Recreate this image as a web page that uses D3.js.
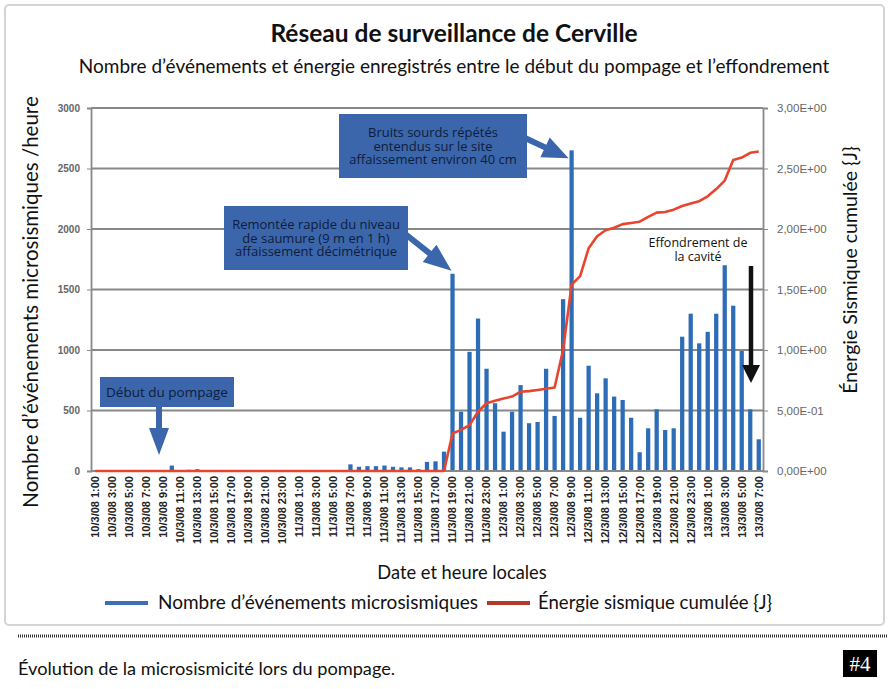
<!DOCTYPE html>
<html>
<head>
<meta charset="utf-8">
<script src="https://cdn.jsdelivr.net/npm/d3@7"></script>
<style>
  body { margin: 0; background: #fff; }
  svg { display: block; }
</style>
</head>
<body>
<svg id="chart" width="889" height="689"></svg>
<script>
// one bar per hour, starting 10/3/08 1:00
const startHour = new Date(2008, 2, 10, 1);
const hours = d3.range(79).map((i) => d3.timeHour.offset(startHour, i));
const fmtHour = d3.timeFormat("%-d/%-m/%y %-H:%M");
const categories = hours.map(fmtHour);

const events = [
    0, 0, 0, 0, 0, 0, 0, 0, 0, 45,
    0, 10, 15, 0, 0, 0, 0, 0, 0, 0,
    0, 0, 0, 0, 0, 0, 0, 0, 0, 0,
    55, 35, 40, 40, 45, 35, 30, 30, 15, 75,
    80, 160, 1630, 490, 985, 1260, 845, 560, 325, 490,
    710, 395, 405, 845, 455, 1420, 2650, 440, 870, 642,
    766, 615, 587, 440, 155, 353, 510, 339, 353, 1110,
    1300, 1055, 1150, 1300, 1700, 1366, 992, 510, 262
];

const energy = [
    0, 0, 0, 0, 0, 0, 0, 0, 0, 0,
    0, 0, 0, 0, 0, 0, 0, 0, 0, 0,
    0, 0, 0, 0, 0, 0, 0, 0, 0, 0,
    0, 0, 0, 0, 0, 0, 0, 0, 0, 0,
    0, 0, 0.31, 0.34, 0.38, 0.49, 0.56, 0.58, 0.60, 0.615,
    0.655, 0.66, 0.67, 0.68, 0.69, 1.0, 1.54, 1.61, 1.84, 1.94,
    1.99, 2.01, 2.04, 2.05, 2.06, 2.10, 2.135, 2.14, 2.16, 2.19,
    2.21, 2.23, 2.27, 2.33, 2.40, 2.57, 2.59, 2.63, 2.64
];

const leftTicks = [0, 500, 1000, 1500, 2000, 2500, 3000];
const rightTicks = [0, 0.5, 1, 1.5, 2, 2.5, 3];
const rightTickLabels = ["0,00E+00", "5,00E-01", "1,00E+00", "1,50E+00", "2,00E+00", "2,50E+00", "3,00E+00"];

const barColor = "#2d6cb6";
const lineColor = "#e8442e";
const boxColor = "#3b66ac";
const boxText = "#0e1c3a";

const plotL = 91, plotR = 763, plotT = 108, plotB = 471;

let svg = d3.select("#chart");

// frame
svg.append("rect")
    .attr("x", 5).attr("y", 5).attr("width", 879).attr("height", 620)
    .attr("rx", 4)
    .attr("fill", "none").attr("stroke", "#d4d4d4").attr("stroke-width", 2);

svg.append("text")
    .attr("x", 454).attr("y", 42)
    .attr("text-anchor", "middle")
    .style("font-family", "Lato").style("font-weight", "bold").style("font-size", "24.5px")
    .attr("fill", "#111")
    .text("Réseau de surveillance de Cerville");

svg.append("text")
    .attr("x", 454).attr("y", 73)
    .attr("text-anchor", "middle")
    .style("font-family", "Lato").style("font-size", "19px")
    .attr("fill", "#111")
    .text("Nombre d’événements et énergie enregistrés entre le début du pompage et l’effondrement");

let x = d3.scaleBand().domain(categories).range([plotL, plotR]).paddingInner(0.5).paddingOuter(0.25);
let y = d3.scaleLinear().domain([0, 3000]).range([plotB, plotT]);
let y2 = d3.scaleLinear().domain([0, 3]).range([plotB, plotT]);

// grid
svg.append("g")
    .selectAll("line")
    .data(leftTicks)
    .join("line")
    .attr("x1", plotL).attr("x2", plotR)
    .attr("y1", (d) => y(d)).attr("y2", (d) => y(d))
    .attr("stroke", "#888").attr("stroke-width", 1.8);

// left axis
let yAxis = svg.append("g")
    .attr("transform", `translate(${plotL},0)`)
    .call(d3.axisLeft(y).tickValues(leftTicks).tickFormat(d3.format("d")).tickSize(4).tickPadding(7));
yAxis.select(".domain").attr("stroke", "#888").attr("stroke-width", 1.8);
yAxis.selectAll(".tick line").attr("stroke", "#888");
yAxis.selectAll("text")
    .style("font-family", "Liberation Sans").style("font-size", "10px").style("font-weight", "bold")
    .attr("fill", "#666");

// right axis
let y2Axis = svg.append("g")
    .attr("transform", `translate(${plotR},0)`)
    .call(d3.axisRight(y2).tickValues(rightTicks).tickSize(5).tickPadding(9)
        .tickFormat((d, i) => rightTickLabels[i]));
y2Axis.select(".domain").attr("stroke", "#888").attr("stroke-width", 1.8);
y2Axis.selectAll(".tick line").attr("stroke", "#888");
y2Axis.selectAll("text")
    .style("font-family", "Liberation Sans").style("font-size", "11.5px")
    .attr("fill", "#666");

// x labels, every second hour
let xAxis = svg.append("g")
    .attr("transform", `translate(0,${plotB})`)
    .call(d3.axisBottom(x).tickValues(categories.filter((c, i) => i % 2 == 0)).tickSize(0));
xAxis.select(".domain").remove();
xAxis.selectAll("text")
    .attr("transform", "rotate(-90)")
    .attr("text-anchor", "end")
    .attr("x", -5).attr("y", 0).attr("dy", "0.35em")
    .style("font-family", "Liberation Sans").style("font-size", "11px").style("font-weight", "bold")
    .attr("fill", "#222");

// bars
svg.append("g")
    .selectAll("rect")
    .data(events)
    .join("rect")
    .attr("x", (d, i) => x(categories[i]))
    .attr("width", x.bandwidth())
    .attr("y", (d) => y(d))
    .attr("height", (d) => plotB - y(d))
    .attr("fill", barColor);

// bottom axis line
svg.append("line")
    .attr("x1", plotL).attr("x2", plotR).attr("y1", plotB).attr("y2", plotB)
    .attr("stroke", "#888").attr("stroke-width", 1.8);

// cumulative energy
svg.append("path")
    .datum(energy)
    .attr("fill", "none")
    .attr("stroke", lineColor)
    .attr("stroke-width", 2.6)
    .attr("stroke-linejoin", "round")
    .attr("d", d3.line()
        .x((d, i) => x(categories[i]) + x.bandwidth() / 2)
        .y((d) => y2(d)));

// axis titles
svg.append("text")
    .attr("transform", "translate(38,302) rotate(-90)")
    .attr("text-anchor", "middle")
    .style("font-family", "Lato").style("font-size", "20.5px")
    .attr("fill", "#111")
    .text("Nombre d’événements microsismiques /heure");

svg.append("text")
    .attr("transform", "translate(857,270) rotate(-90)")
    .attr("text-anchor", "middle")
    .style("font-family", "Lato").style("font-size", "19.5px")
    .attr("fill", "#111")
    .text("Énergie Sismique cumulée {J}");

svg.append("text")
    .attr("x", 462).attr("y", 579)
    .attr("text-anchor", "middle")
    .style("font-family", "Lato").style("font-size", "18.3px")
    .attr("fill", "#111")
    .text("Date et heure locales");

// arrows
function arrowPath(x1, y1, x2, y2, w, len, headW) {
    let dx = x2 - x1, dy = y2 - y1;
    let d = Math.hypot(dx, dy);
    let ux = dx / d, uy = dy / d;
    let nx = -uy, ny = ux;
    let bx = x2 - ux * len, by = y2 - uy * len;
    let pts = [
        [x1 + nx * w / 2, y1 + ny * w / 2],
        [bx + nx * w / 2, by + ny * w / 2],
        [bx + nx * headW / 2, by + ny * headW / 2],
        [x2, y2],
        [bx - nx * headW / 2, by - ny * headW / 2],
        [bx - nx * w / 2, by - ny * w / 2],
        [x1 - nx * w / 2, y1 - ny * w / 2]
    ];
    return "M" + pts.map((p) => p.join(",")).join("L") + "Z";
}

function barTip(i) {
    return [x(categories[i]) + x.bandwidth() / 2, y(events[i])];
}

function noteBox(bx, by, bw, bh, lines, size) {
    let g = svg.append("g");
    g.append("rect")
        .attr("x", bx).attr("y", by).attr("width", bw).attr("height", bh)
        .attr("fill", boxColor);
    let lh = size * 1.03;
    let y0 = by + bh / 2 - (lines.length - 1) * lh / 2;
    g.selectAll("text")
        .data(lines)
        .join("text")
        .attr("x", bx + bw / 2)
        .attr("y", (d, i) => y0 + i * lh)
        .attr("dy", "0.35em")
        .attr("text-anchor", "middle")
        .style("font-family", "Open Sans").style("font-size", size + "px")
        .attr("fill", boxText)
        .text((d) => d);
}

// Début du pompage
noteBox(100, 377, 134, 30, ["Début du pompage"], 13.5);
svg.append("path")
    .attr("d", arrowPath(159, 406, 159, 455, 6, 27, 20))
    .attr("fill", boxColor);

// Remontée rapide
noteBox(224, 206, 184, 64, ["Remontée rapide du niveau", "de saumure (9 m en 1 h)", "affaissement décimétrique"], 13);
let t2 = barTip(42);
svg.append("path")
    .attr("d", arrowPath(404, 233, t2[0] - 1, t2[1] - 3, 6, 28, 22))
    .attr("fill", boxColor);

// Bruits sourds
noteBox(339, 114, 188, 64, ["Bruits sourds répétés", "entendus sur le site", "affaissement environ 40 cm"], 13);
let t3 = barTip(56);
svg.append("path")
    .attr("d", arrowPath(525, 138, t3[0] - 3, t3[1] + 8, 6, 26, 22))
    .attr("fill", boxColor);

// Effondrement
svg.append("g")
    .selectAll("text")
    .data(["Effondrement de", "la cavité"])
    .join("text")
    .attr("x", 698)
    .attr("y", (d, i) => 247 + i * 13.5)
    .attr("text-anchor", "middle")
    .style("font-family", "Open Sans").style("font-size", "12.5px")
    .attr("fill", "#111")
    .text((d) => d);
svg.append("path")
    .attr("d", arrowPath(751, 266, 751, 383, 4.5, 18, 18))
    .attr("fill", "#111");

// legend
svg.append("line")
    .attr("x1", 105).attr("x2", 148).attr("y1", 603).attr("y2", 603)
    .attr("stroke", "#3d6fb6").attr("stroke-width", 4);
svg.append("text")
    .attr("x", 158).attr("y", 609)
    .style("font-family", "Lato").style("font-size", "19px")
    .attr("fill", "#111")
    .text("Nombre d’événements microsismiques");
svg.append("line")
    .attr("x1", 487).attr("x2", 530).attr("y1", 603).attr("y2", 603)
    .attr("stroke", "#b3392b").attr("stroke-width", 4);
svg.append("text")
    .attr("x", 538).attr("y", 609)
    .style("font-family", "Lato").style("font-size", "18.6px")
    .attr("fill", "#111")
    .text("Énergie sismique cumulée {J}");

// footer
svg.append("line")
    .attr("x1", 18).attr("x2", 887).attr("y1", 636).attr("y2", 636)
    .attr("stroke", "#333").attr("stroke-width", 3)
    .attr("stroke-dasharray", "1,1");

svg.append("text")
    .attr("x", 18).attr("y", 675)
    .style("font-family", "Lato").style("font-size", "18.2px")
    .attr("fill", "#111")
    .text("Évolution de la microsismicité lors du pompage.");

svg.append("rect")
    .attr("x", 843).attr("y", 650).attr("width", 34).attr("height", 27)
    .attr("fill", "#000");
svg.append("text")
    .attr("x", 860).attr("y", 671)
    .attr("text-anchor", "middle")
    .style("font-family", "Liberation Serif").style("font-size", "21px")
    .attr("fill", "#fff")
    .text("#4");
</script>
</body>
</html>
